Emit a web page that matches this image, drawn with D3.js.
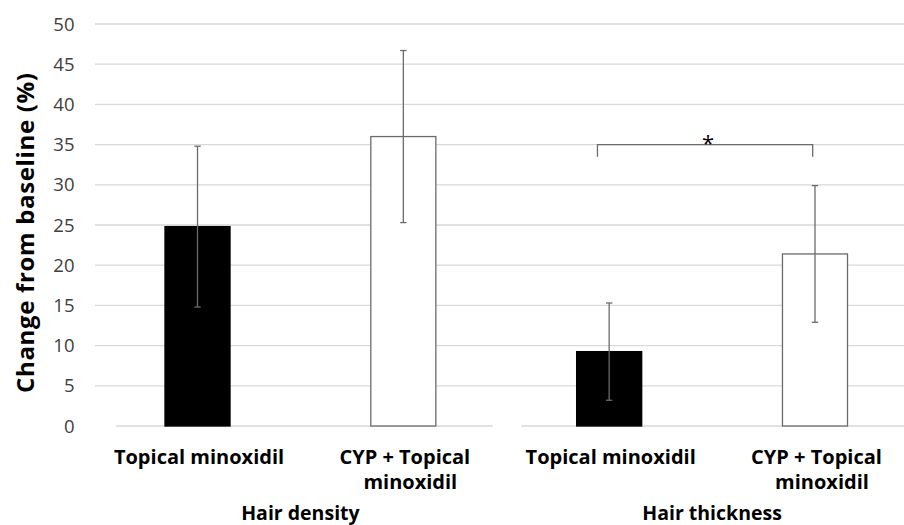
<!DOCTYPE html>
<html><head><meta charset="utf-8">
<script src="https://cdn.jsdelivr.net/npm/d3@7"></script>
<style>
html,body{margin:0;padding:0;background:#fff;overflow:hidden}
svg{display:block}
text{font-family:"Open Sans","Noto Sans",sans-serif}
</style></head><body>
<svg id="chart" width="904" height="525"></svg>
<script>
// ---- data ----
const categories = [
  ["Topical minoxidil"],
  ["CYP + Topical", "minoxidil"],
  ["Topical minoxidil"],
  ["CYP + Topical", "minoxidil"]
];
const groups = ["Hair density", "Hair thickness"];
const groupOf = [0, 0, 1, 1];
const treatment = ["Topical", "CYP", "Topical", "CYP"];
const values = [24.8, 36.0, 9.25, 21.4];
const errors = [10.0, 10.7, 6.05, 8.5];
const yTicks = [0, 5, 10, 15, 20, 25, 30, 35, 40, 45, 50];
const yTitle = "Change from baseline (%)";
const sigBrackets = [{from: 2, to: 3, y: 35, drop: 1.5, label: "*"}];

// ---- layout ----
const svg = d3.select("#chart");
const x = d3.scaleBand().domain(d3.range(categories.length))
  .range([94.6, 917.9]).paddingInner(0.684).paddingOuter(0.342);
const y = d3.scaleLinear().domain([0, 50]).range([426, 24]);
const cx = i => x(i) + x.bandwidth() / 2;

// gridlines
svg.append("g").selectAll("line").data(yTicks.filter(t => t > 0)).join("line")
  .attr("x1", 95).attr("x2", 904)
  .attr("y1", d => y(d)).attr("y2", d => y(d))
  .attr("stroke", "#d9d9d9").attr("stroke-width", 1.3);

// y tick labels
svg.append("g").selectAll("text").data(yTicks).join("text")
  .attr("x", 74.5).attr("y", d => y(d)).attr("dy", "0.36em")
  .attr("text-anchor", "end").attr("font-size", 18.5).attr("fill", "#404040")
  .text(d => d);

// axis line (segmented per group)
const step = x.step();
groups.forEach((g, gi) => {
  const idx = d3.range(categories.length).filter(i => groupOf[i] === gi);
  const left = x(idx[0]) - x.paddingOuter() * step;
  const right = x(idx[idx.length - 1]) + x.bandwidth() + x.paddingOuter() * step;
  svg.append("line")
    .attr("x1", left + (gi === 0 ? 21.4 : 15)).attr("x2", Math.min(right - 13.5, 904))
    .attr("y1", y(0)).attr("y2", y(0))
    .attr("stroke", "#d9d9d9").attr("stroke-width", 1.3);
});

// bars
svg.append("g").selectAll("rect").data(values).join("rect")
  .attr("x", (d, i) => x(i)).attr("width", x.bandwidth())
  .attr("y", d => y(d)).attr("height", d => y(0) - y(d))
  .attr("fill", (d, i) => treatment[i] === "Topical" ? "#000" : "#fff")
  .attr("stroke", (d, i) => treatment[i] === "Topical" ? "#000" : "#6b6b6b")
  .attr("stroke-width", 1.3);

// error bars
const eb = svg.append("g").attr("stroke", "#6b6b6b").attr("stroke-width", 1.3);
values.forEach((v, i) => {
  const e = errors[i], c = cx(i);
  eb.append("line").attr("x1", c).attr("x2", c).attr("y1", y(v + e)).attr("y2", y(v - e));
  eb.append("line").attr("x1", c - 3.2).attr("x2", c + 3.2).attr("y1", y(v + e)).attr("y2", y(v + e));
  eb.append("line").attr("x1", c - 3.2).attr("x2", c + 3.2).attr("y1", y(v - e)).attr("y2", y(v - e));
});

// significance bracket
sigBrackets.forEach(b => {
  const x1 = cx(b.from) - 11.7, x2 = cx(b.to) - 2.3;
  svg.append("path")
    .attr("d", `M${x1},${y(b.y - b.drop)}V${y(b.y)}H${x2}V${y(b.y - b.drop)}`)
    .attr("fill", "none").attr("stroke", "#6b6b6b").attr("stroke-width", 1.3);
  svg.append("text").attr("x", (x1 + x2) / 2 + 3).attr("y", y(b.y) + 6)
    .attr("text-anchor", "middle").attr("font-size", 22).attr("fill", "#000")
    .text(b.label);
});

// category labels
const cl = svg.append("g");
categories.forEach((lines, i) => {
  const t = cl.append("text").attr("y", 464)
    .attr("text-anchor", "middle").attr("font-size", 20).attr("font-weight", "bold").attr("fill", "#000");
  lines.forEach((ln, k) => t.append("tspan")
    .attr("x", cx(i) + (k === 0 ? 1.5 : 7)).attr("dy", k === 0 ? 0 : 24.5).text(ln));
});

// group labels
groups.forEach((g, gi) => {
  const idx = d3.range(categories.length).filter(i => groupOf[i] === gi);
  const mid = d3.mean(idx, i => cx(i));
  svg.append("text").attr("x", mid).attr("y", 519.5)
    .attr("text-anchor", "middle").attr("font-size", 19.5).attr("font-weight", "bold").attr("fill", "#000")
    .text(g);
});

// y title
svg.append("text").attr("transform", `translate(34,233) rotate(-90)`)
  .attr("text-anchor", "middle").attr("font-size", 24).attr("font-weight", "bold").attr("fill", "#000")
  .attr("textLength", 320).attr("lengthAdjust", "spacing")
  .text(yTitle);
</script>
</body></html>
